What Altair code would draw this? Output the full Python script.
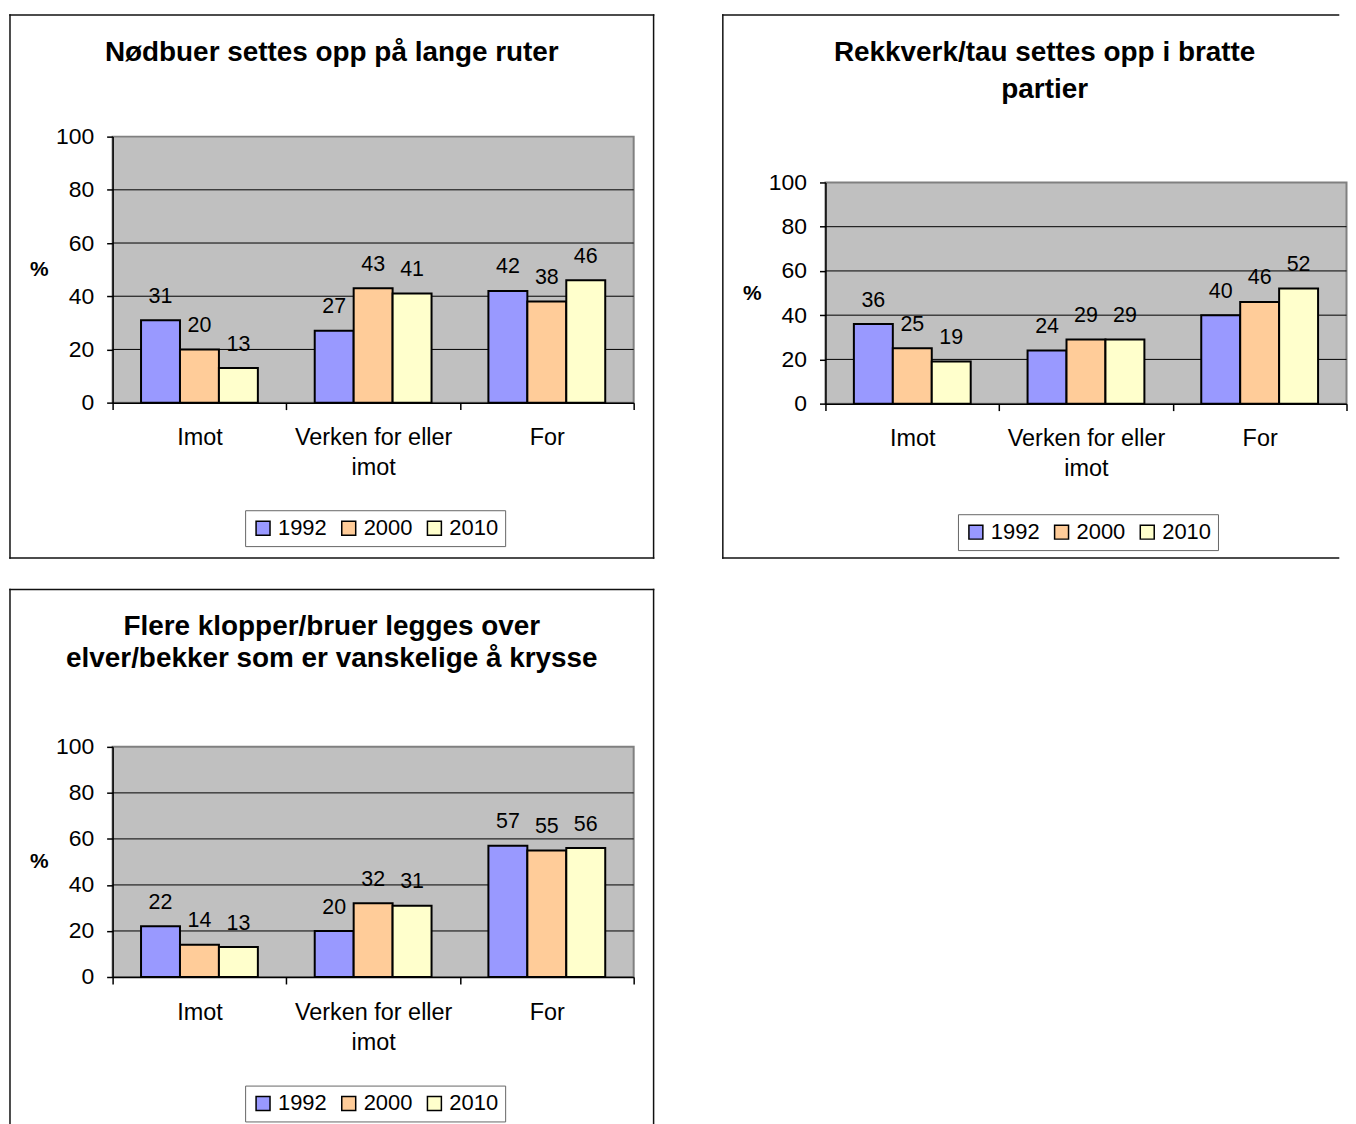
import altair as alt
import pandas as pd

FONT = "Liberation Sans"

categories = ["Imot", "Verken for eller imot", "For"]
years = ["1992", "2000", "2010"]
colors = ["#9999FF", "#FFCC99", "#FFFFCC"]
y_ticks = [0, 20, 40, 60, 80, 100]
grid_values = [20, 40, 60, 80]

titles = [
    "Nødbuer settes opp på lange ruter",
    "Rekkverk/tau settes opp i bratte\npartier",
    "Flere klopper/bruer legges over\nelver/bekker som er vanskelige å krysse",
]

# values per year, in category order (Imot, Verken for eller imot, For)
nodbuer_1992 = [31, 27, 42]
nodbuer_2000 = [20, 43, 38]
nodbuer_2010 = [13, 41, 46]

rekkverk_1992 = [36, 24, 40]
rekkverk_2000 = [25, 29, 46]
rekkverk_2010 = [19, 29, 52]

klopper_1992 = [22, 20, 57]
klopper_2000 = [14, 32, 55]
klopper_2010 = [13, 31, 56]

LABEL_EXPR = ("datum.label == 'Verken for eller imot' ? "
              "['Verken for eller', 'imot'] : datum.label")

PLOT_L, PLOT_R = 103, 626


def edge(head, x1, x2, y1, y2):
    return alt.Chart(head).mark_rule(
        stroke="#111111", strokeWidth=1.5, strokeCap="square"
    ).encode(x=alt.value(x1), x2=alt.value(x2), y=alt.value(y1), y2=alt.value(y2))


def panel(title, series, W, H, plot_top, plot_bottom, title_y, title_lh,
          legend_y, sides):
    rows = []
    for yr, vals in zip(years, series):
        for c, v in zip(categories, vals):
            rows.append({"kategori": c, "år": yr, "prosent": v})
    df = pd.DataFrame(rows)

    x = alt.X(
        "kategori:N", sort=categories,
        scale=alt.Scale(paddingInner=0, paddingOuter=0, range=[PLOT_L, PLOT_R]),
        axis=alt.Axis(title=None, labelAngle=0, tickBand="extent",
                      labelExpr=LABEL_EXPR, labelFontSize=23.5, labelPadding=16.5,
                      labelLineHeight=30, tickSize=7, grid=False,
                      offset=plot_bottom - H, zindex=1,
                      labelFont=FONT, labelColor="black"),
    )
    xo = alt.XOffset("år:N", sort=years,
                     scale=alt.Scale(paddingInner=0, paddingOuter=0.73))
    y = alt.Y(
        "prosent:Q",
        scale=alt.Scale(domain=[0, 100], nice=False, range=[plot_bottom, plot_top]),
        axis=alt.Axis(values=y_ticks, title="%", titleAngle=0, titleX=-74,
                      titleY=(plot_top + plot_bottom) / 2, titleFontWeight="bold",
                      titleFontSize=21, titleAlign="center", titleBaseline="middle",
                      labelFontSize=23, labelPadding=13, tickSize=6,
                      grid=False, offset=-PLOT_L, zindex=1),
    )

    head = pd.DataFrame({"tittel": [title]})
    grid_df = pd.DataFrame({"prosent": grid_values})

    plot_bg = alt.Chart(head).mark_rect(
        fill="#C0C0C0", stroke="#808080", strokeWidth=2
    ).encode(x=alt.value(PLOT_L), x2=alt.value(PLOT_R),
             y=alt.value(plot_top), y2=alt.value(plot_bottom))

    grid = alt.Chart(grid_df).mark_rule(color="black", strokeWidth=1).encode(
        y=y, x=alt.value(PLOT_L), x2=alt.value(PLOT_R))

    bars = alt.Chart(df).mark_bar(stroke="black", strokeWidth=2).encode(
        x=x, xOffset=xo, y=y,
        fill=alt.Fill(
            "år:N",
            scale=alt.Scale(domain=years, range=colors),
            legend=alt.Legend(orient="none", legendX=236, legendY=legend_y,
                              direction="horizontal", title=None,
                              symbolType="square", symbolSize=196,
                              symbolStrokeColor="black", symbolStrokeWidth=1.5,
                              labelFontSize=22, labelFont=FONT, labelColor="black",
                              columnPadding=11, labelOffset=4, padding=7,
                              strokeColor="#666666", fillColor="white"),
        ),
    )
    labels = alt.Chart(df).mark_text(
        baseline="alphabetic", dy=-17.5, fontSize=21.5, font=FONT, color="black"
    ).encode(x=x, xOffset=xo, y=y, text="prosent:Q")

    frame = []
    if "top" in sides:
        frame.append(edge(head, 0, W, 0, 0))
    if "bottom" in sides:
        frame.append(edge(head, 0, W, H, H))
    if "left" in sides:
        frame.append(edge(head, 0, 0, 0, H))
    if "right" in sides:
        frame.append(edge(head, W, W, 0, H))

    ttl = alt.Chart(head).mark_text(
        font=FONT, fontSize=28, fontWeight="bold", lineBreak="\n",
        lineHeight=title_lh, align="center", baseline="middle", color="black"
    ).encode(x=alt.value(323), y=alt.value(title_y), text="tittel:N")

    return alt.layer(plot_bg, grid, bars, labels, ttl, *frame).properties(
        width=W, height=H)


p1 = panel(titles[0], [nodbuer_1992, nodbuer_2000, nodbuer_2010],
           646, 545, 122, 389, 38, 30, 497,
           ["top", "bottom", "left", "right"])
p2 = panel(titles[1], [rekkverk_1992, rekkverk_2000, rekkverk_2010],
           618, 545, 168, 390, 38.5, 37, 501,
           ["top", "bottom", "left"])
p3 = panel(titles[2], [klopper_1992, klopper_2000, klopper_2010],
           646, 545, 158, 389, 37.5, 32, 498,
           ["top", "left", "right"])

chart = alt.concat(
    p1, p2, p3, columns=2,
    spacing={"row": 27.5, "column": 65.5},
).resolve_scale(fill="independent").resolve_legend(fill="independent")

chart = chart.configure_view(
    stroke="transparent"
).configure_axis(
    labelFont=FONT, titleFont=FONT, labelColor="black", titleColor="black",
    domainColor="black", tickColor="black", domainWidth=1.5, tickWidth=1.5
).properties(
    padding={"left": 0, "top": 3, "right": 0, "bottom": 0},
    background="white",
)

chart.save("out.html", embed_options={"renderer": "svg", "actions": False})
